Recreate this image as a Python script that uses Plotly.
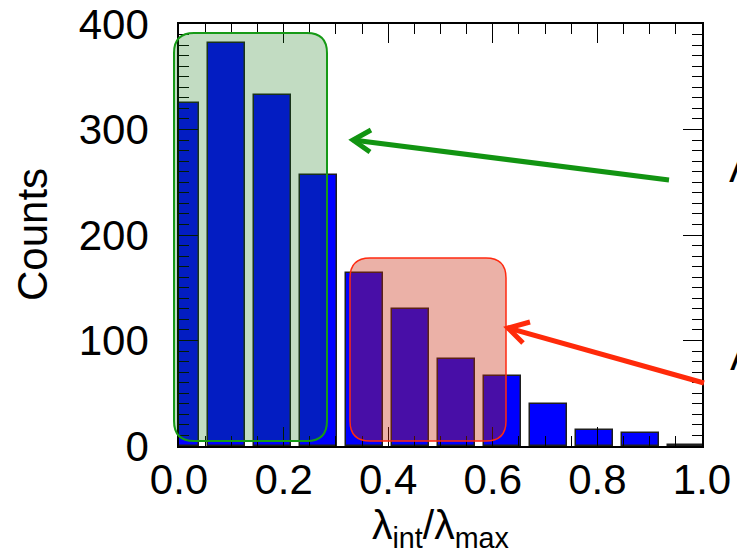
import plotly.graph_objects as go

# ---- data ----
bin_centers = [0.002, 0.090, 0.178, 0.266, 0.354, 0.442, 0.530, 0.618, 0.706, 0.795, 0.883, 0.971]
counts = [325, 382, 333, 257, 164, 130, 82, 66, 40, 15, 12, 1]
x_ticks = [0.0, 0.2, 0.4, 0.6, 0.8, 1.0]
x_tick_labels = ["0.0", "0.2", "0.4", "0.6", "0.8", "1.0"]
y_ticks = [0, 100, 200, 300, 400]
y_tick_labels = ["0", "100", "200", "300", "400"]

FONT = "Liberation Sans, Arial, Helvetica, sans-serif"

fig = go.Figure()
fig.add_trace(go.Bar(
    x=bin_centers, y=counts, width=0.0708,
    marker=dict(color="#0000ff", line=dict(color="#1e1e1e", width=1.5)),
    showlegend=False,
))

L, R, T, B = 179, 35, 24, 114
W, H = 737, 560
pw, ph = W - L - R, H - T - B


def px2paper(px, py):
    return (px - L) / pw, (H - B - py) / ph


def rounded_rect(x0, y0, x1, y1, r):
    def P(px, py):
        a, b = px2paper(px, py)
        return f"{a:.5f},{b:.5f}"
    return (f"M {P(x0 + r, y0)} L {P(x1 - r, y0)} Q {P(x1, y0)} {P(x1, y0 + r)} "
            f"L {P(x1, y1 - r)} Q {P(x1, y1)} {P(x1 - r, y1)} "
            f"L {P(x0 + r, y1)} Q {P(x0, y1)} {P(x0, y1 - r)} "
            f"L {P(x0, y0 + r)} Q {P(x0, y0)} {P(x0 + r, y0)} Z")


def line_path(points):
    segs = []
    for i, (px, py) in enumerate(points):
        a, b = px2paper(px, py)
        segs.append(("M " if i == 0 else "L ") + f"{a:.5f},{b:.5f}")
    return " ".join(segs)


shapes = [
    dict(type="path", xref="paper", yref="paper", layer="above",
         path=rounded_rect(174, 33, 327, 441, 20),
         fillcolor="rgba(10,115,10,0.25)", line=dict(color="#169a16", width=2)),
    dict(type="path", xref="paper", yref="paper", layer="above",
         path=rounded_rect(350, 258, 506, 441, 20),
         fillcolor="rgba(200,40,10,0.36)", line=dict(color="#ff2a10", width=1.5)),
    # green arrow
    dict(type="path", xref="paper", yref="paper", layer="above",
         path=line_path([(669, 180), (353, 140)]), line=dict(color="#129412", width=5)),
    dict(type="path", xref="paper", yref="paper", layer="above",
         path=line_path([(371, 130), (353, 140), (370, 152)]), line=dict(color="#129412", width=5)),
    # red arrow
    dict(type="path", xref="paper", yref="paper", layer="above",
         path=line_path([(704, 383), (508, 328)]), line=dict(color="#ff2a0a", width=5)),
    dict(type="path", xref="paper", yref="paper", layer="above",
         path=line_path([(530, 322), (508, 328), (523, 343)]), line=dict(color="#ff2a0a", width=5)),
]

gx, gy = px2paper(32, 235)
tx, ty = px2paper(441, 500)
a1x, a1y = px2paper(727, 192)
a2x, a2y = px2paper(728, 380)

annotations = [
    dict(text="Counts", xref="paper", yref="paper", x=gx, y=gy, textangle=-90,
         showarrow=False, font=dict(family=FONT, size=42, color="black"),
         xanchor="center", yanchor="middle"),
    dict(text="λ<sub>int</sub>/λ<sub>max</sub>", xref="paper", yref="paper", x=tx, y=ty,
         showarrow=False, font=dict(family=FONT, size=41, color="black"),
         xanchor="center", yanchor="top"),
    dict(text="Λ", xref="paper", yref="paper", x=a1x, y=a1y, showarrow=False,
         font=dict(family=FONT, size=40, color="black"), xanchor="left", yanchor="bottom"),
    dict(text="Λ", xref="paper", yref="paper", x=a2x, y=a2y, showarrow=False,
         font=dict(family=FONT, size=40, color="black"), xanchor="left", yanchor="bottom"),
]

axis_common = dict(showline=True, linecolor="black", linewidth=1.5, mirror="allticks",
                   ticks="inside", ticklen=19, tickwidth=1.2, tickcolor="black",
                   showgrid=False, zeroline=False, automargin=False,
                   tickfont=dict(family=FONT, size=42, color="black"))

fig.update_layout(
    width=W, height=H,
    margin=dict(l=L, r=R, t=T, b=B, pad=0, autoexpand=False),
    paper_bgcolor="white", plot_bgcolor="white",
    xaxis=dict(range=[0, 1.0], tickvals=x_ticks, ticktext=x_tick_labels,
               minor=dict(dtick=0.05, tick0=0, ticks="inside", ticklen=10, tickwidth=1.2, tickcolor="black"),
               ticklabelstandoff=-4, **axis_common),
    yaxis=dict(range=[0, 400], tickvals=y_ticks, ticktext=y_tick_labels,
               minor=dict(dtick=10, tick0=0, ticks="inside", ticklen=10, tickwidth=1.2, tickcolor="black"),
               ticklabelstandoff=20, **axis_common),
    shapes=shapes,
    annotations=annotations,
    bargap=0,
)

fig.write_html("out.html")
